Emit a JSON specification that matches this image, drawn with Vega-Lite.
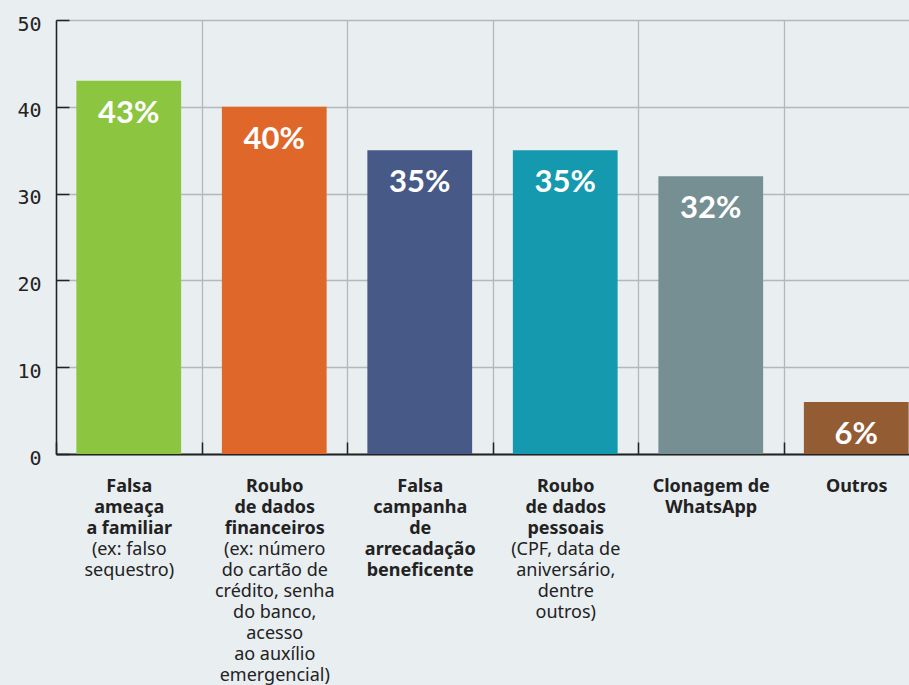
{
  "$schema": "https://vega.github.io/schema/vega-lite/v6.json",
  "autosize": "none",
  "width": 853,
  "height": 434,
  "padding": {"left": 56, "top": 20, "right": 0, "bottom": 231},
  "background": "#e9eef1",
  "config": {
    "view": {"stroke": null},
    "font": "Noto Sans"
  },
  "data": {
    "values": [
      {"tipo": "Falsa|ameaça|a familiar~(ex: falso|sequestro)", "valor": 43, "rotulo": "43%"},
      {"tipo": "Roubo|de dados|financeiros~(ex: número|do cartão de|crédito, senha|do banco,|acesso|ao auxílio|emergencial)", "valor": 40, "rotulo": "40%"},
      {"tipo": "Falsa|campanha|de|arrecadação|beneficente~", "valor": 35, "rotulo": "35%"},
      {"tipo": "Roubo|de dados|pessoais~(CPF, data de|aniversário,|dentre|outros)", "valor": 35, "rotulo": "35%"},
      {"tipo": "Clonagem de|WhatsApp~", "valor": 32, "rotulo": "32%"},
      {"tipo": "Outros~", "valor": 6, "rotulo": "6%"}
    ]
  },
  "resolve": {"axis": {"x": "independent"}},
  "layer": [
    {
      "mark": {"type": "bar", "width": {"band": 0.72}},
      "encoding": {
        "x": {
          "field": "tipo", "type": "nominal", "sort": null,
          "scale": {"range": [0, 873], "paddingInner": 0, "paddingOuter": 0},
          "axis": {
            "orient": "bottom",
            "title": null,
            "tickBand": "extent",
            "grid": true, "gridColor": "#b5b8bb", "gridWidth": 1.3,
            "domain": true, "domainColor": "#222222", "domainWidth": 2,
            "ticks": true, "tickSize": -12, "tickColor": "#222222", "tickWidth": 1.5,
            "labelAngle": 0, "labelAlign": "center", "labelBaseline": "top",
            "labelPadding": 35, "labelFont": "Noto Sans", "labelFontSize": 18,
            "labelFontWeight": "bold", "labelColor": "#222222", "labelLineHeight": 21.1,
            "labelLimit": 0, "labelOverlap": false,
            "labelExpr": "isValid(datum.value) ? split(split(datum.value, '~')[0], '|') : ''"
          }
        },
        "y": {
          "field": "valor", "type": "quantitative",
          "scale": {"domain": [0, 50], "nice": false},
          "axis": {
            "title": null, "values": [0, 10, 20, 30, 40, 50],
            "grid": true, "gridColor": "#b5b8bb", "gridWidth": 1.3,
            "domain": true, "domainColor": "#222222", "domainWidth": 1.5,
            "ticks": true, "tickSize": -13, "tickColor": "#222222", "tickWidth": 1.5,
            "labelFont": "DejaVu Sans Mono", "labelFontSize": 20, "labelColor": "#222222",
            "labelPadding": 28, "labelBaseline": "middle", "labelOffset": 4
          }
        },
        "color": {
          "field": "tipo", "type": "nominal", "sort": null, "legend": null,
          "scale": {"range": ["#8cc540", "#e0672a", "#475a87", "#1599ae", "#768f93", "#945c32"]}
        }
      }
    },
    {
      "mark": {"type": "text", "color": "white", "font": "Lato", "fontWeight": "bold", "fontSize": 31, "baseline": "middle", "dy": 33},
      "encoding": {
        "x": {
          "field": "tipo", "type": "nominal", "sort": null,
          "axis": {
            "orient": "bottom",
            "title": null,
            "tickBand": "extent",
            "grid": false, "domain": false,
            "ticks": true, "tickSize": -12, "tickOpacity": 0,
            "labelAngle": 0, "labelAlign": "center", "labelBaseline": "top",
            "labelPadding": {
              "condition": [
                {"test": "isValid(datum.value) && length(split(split(datum.value, '~')[0], '|')) == 2", "value": 77.2},
                {"test": "isValid(datum.value) && length(split(split(datum.value, '~')[0], '|')) == 3", "value": 98.3},
                {"test": "isValid(datum.value) && length(split(split(datum.value, '~')[0], '|')) == 5", "value": 140.5}
              ],
              "value": 56.1
            },
            "labelFont": "Noto Sans", "labelFontSize": 18,
            "labelFontWeight": "normal", "labelColor": "#222222", "labelLineHeight": 21.1,
            "labelLimit": 0, "labelOverlap": false,
            "labelExpr": "isValid(datum.value) ? split(split(datum.value, '~')[1], '|') : ''"
          }
        },
        "y": {"field": "valor", "type": "quantitative"},
        "text": {"field": "rotulo"}
      }
    }
  ]
}
